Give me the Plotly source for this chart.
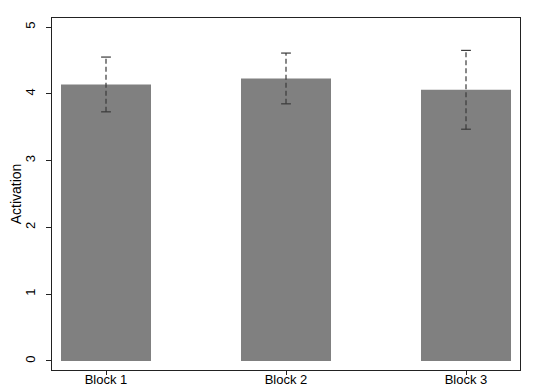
import plotly.graph_objects as go

categories = ["Block 1", "Block 2", "Block 3"]
means = [4.14, 4.23, 4.06]
upper = [4.55, 4.61, 4.65]
lower = [3.73, 3.85, 3.47]
y_ticks = [0, 1, 2, 3, 4, 5]

fig = go.Figure()
fig.add_trace(go.Bar(x=categories, y=means, marker=dict(color="#808080", line=dict(width=0)),
                     width=0.5, showlegend=False))
for c, lo, hi in zip(categories, lower, upper):
    fig.add_trace(go.Scatter(x=[c, c], y=[lo, hi], mode="lines+markers",
                             line=dict(color="#3a3a3a", width=1.2, dash="5px,3px"),
                             marker=dict(symbol="line-ew", size=7,
                                         line=dict(color="#3a3a3a", width=1.2)),
                             showlegend=False, hoverinfo="skip"))

tick_font = dict(family="Liberation Sans, Arial, sans-serif", size=13, color="black")
title_font = dict(family="Liberation Sans, Arial, sans-serif", size=14, color="black")
fig.update_layout(
    width=550, height=387,
    margin=dict(l=44, r=38, t=10, b=25),
    paper_bgcolor="white", plot_bgcolor="white",
    bargap=0.5,
    font=tick_font,
    xaxis=dict(range=[-0.3, 2.3], showline=True, linecolor="#222", linewidth=1, mirror=True,
               ticks="outside", ticklen=4, tickcolor="#222", showgrid=False, zeroline=False,
               tickfont=tick_font, automargin=False, ticklabelstandoff=-7),
    yaxis=dict(range=[-0.135, 5.135], tickvals=y_ticks, showline=True, linecolor="#222",
               linewidth=1, mirror=True, ticks="outside", ticklen=5, tickcolor="#222",
               showgrid=False, zeroline=False, tickangle=-90, tickfont=tick_font,
               automargin=False, ticklabelstandoff=6,
               title=dict(text="Activation", font=title_font, standoff=4)),
)
fig.write_html("out.html")
